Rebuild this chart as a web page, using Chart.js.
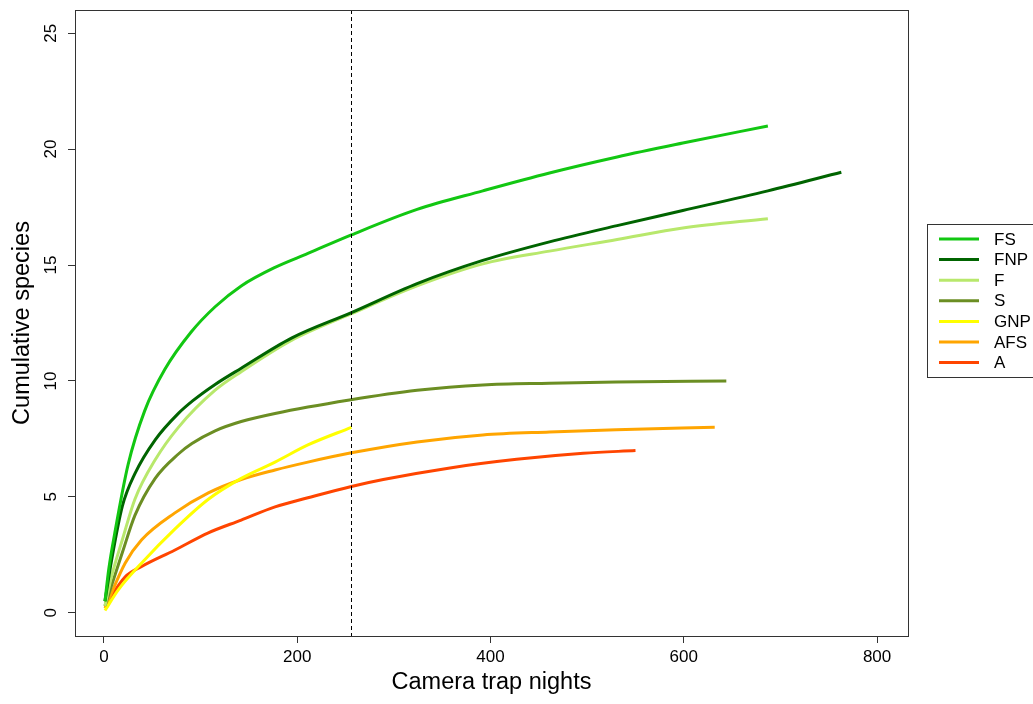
<!DOCTYPE html>
<html>
<head>
<meta charset="utf-8">
<title>Species accumulation by camera trap nights</title>
<script src="https://cdn.jsdelivr.net/npm/chart.js@4.4.1/dist/chart.umd.min.js"></script>
<style>
  html, body { margin: 0; padding: 0; background: #fff; }
  canvas { display: block; }
</style>
</head>
<body>
<canvas id="chart" width="1033" height="704"></canvas>
<script>
// Cumulative species vs. camera trap nights, per site
const seriesNames = ["FS", "FNP", "F", "S", "GNP", "AFS", "A"];

const fsNights  = [1, 5, 11, 25, 42, 63, 90, 115, 142, 177, 211, 256, 324, 392, 461, 531, 599, 687];
const fsSpecies = [0.5, 1.9, 3.4, 6.4, 8.7, 10.5, 12.1, 13.2, 14.1, 14.9, 15.5, 16.3, 17.4, 18.2, 18.97, 19.66, 20.26, 21.0];

const fnpNights  = [1, 8, 19, 32, 53, 77, 92, 115, 142, 194, 256, 324, 392, 461, 531, 599, 687, 763];
const fnpSpecies = [0.5, 2.3, 4.6, 6.0, 7.46, 8.6, 9.15, 9.85, 10.55, 11.85, 12.95, 14.2, 15.2, 16.0, 16.7, 17.35, 18.2, 19.0];

const fNights  = [1, 8, 19, 32, 53, 77, 115, 142, 194, 256, 324, 392, 461, 531, 599, 687];
const fSpecies = [0.3, 1.6, 3.15, 4.9, 6.6, 8.0, 9.6, 10.4, 11.75, 12.9, 14.1, 15.05, 15.6, 16.1, 16.6, 17.0];

const sNights  = [1, 8, 19, 32, 53, 77, 91, 115, 142, 177, 254, 324, 392, 461, 530, 644];
const sSpecies = [0.3, 1.2, 2.6, 4.2, 5.8, 6.85, 7.3, 7.85, 8.25, 8.6, 9.18, 9.6, 9.83, 9.9, 9.95, 10.0];

const gnpNights  = [1, 15, 39, 73, 108, 142, 177, 211, 256];
const gnpSpecies = [0.1, 1.0, 2.15, 3.6, 4.9, 5.8, 6.5, 7.24, 8.0];

const afsNights  = [1, 22, 39, 73, 108, 142, 177, 211, 256, 324, 392, 461, 530, 632];
const afsSpecies = [0.2, 2.15, 3.15, 4.3, 5.17, 5.75, 6.16, 6.5, 6.9, 7.37, 7.67, 7.8, 7.9, 8.0];

const aNights  = [1, 22, 39, 73, 108, 142, 177, 211, 256, 289, 358, 427, 496, 550];
const aSpecies = [0.3, 1.55, 2.0, 2.7, 3.45, 4.0, 4.57, 4.96, 5.45, 5.75, 6.25, 6.62, 6.88, 7.0];

const xTicks = [0, 200, 400, 600, 800];
const yTicks = [0, 5, 10, 15, 20, 25];
const cutoffNights = 256;

const seriesColors = ["#12c712", "#006400", "#b8e86c", "#6b8e23", "#ffff00", "#ffa500", "#ff4500"];
const seriesX = [fsNights, fnpNights, fNights, sNights, gnpNights, afsNights, aNights];
const seriesY = [fsSpecies, fnpSpecies, fSpecies, sSpecies, gnpSpecies, afsSpecies, aSpecies];

const FONT = "'Liberation Sans', Arial, Helvetica, sans-serif";

// draw order: later series underneath, so FS ends up on top
const datasets = seriesNames.map((name, i) => ({
  label: name,
  data: seriesX[i].map((x, k) => ({ x: x, y: seriesY[i][k] })),
  borderColor: seriesColors[i],
  backgroundColor: seriesColors[i],
  borderWidth: 3,
  pointRadius: 0,
  fill: false,
  cubicInterpolationMode: 'monotone',
  order: i
}));

// frame around the plotting region
const boxPlugin = {
  id: 'box',
  afterDraw(chart) {
    const { ctx, chartArea: a } = chart;
    ctx.save();
    ctx.strokeStyle = '#333';
    ctx.lineWidth = 1;
    ctx.strokeRect(Math.round(a.left) + 0.5, Math.round(a.top) + 0.5,
                   Math.round(a.right - a.left), Math.round(a.bottom - a.top));
    ctx.restore();
  }
};

// dashed reference line at the common sampling effort
const cutoffPlugin = {
  id: 'cutoff',
  afterDatasetsDraw(chart) {
    const { ctx, chartArea: a, scales } = chart;
    const x = Math.round(scales.x.getPixelForValue(cutoffNights)) + 0.5;
    ctx.save();
    ctx.strokeStyle = '#000';
    ctx.lineWidth = 1;
    ctx.setLineDash([4, 3]);
    ctx.beginPath();
    ctx.moveTo(x, a.top);
    ctx.lineTo(x, a.bottom);
    ctx.stroke();
    ctx.restore();
  }
};

// boxed legend to the right of the plot
const legendPlugin = {
  id: 'sideLegend',
  afterDraw(chart) {
    const { ctx } = chart;
    const left = 927.5, top = 224.5, width = 130, height = 153;
    const rowH = 20.6, firstY = 239;
    ctx.save();
    ctx.fillStyle = '#fff';
    ctx.fillRect(left, top, width, height);
    ctx.strokeStyle = '#333';
    ctx.lineWidth = 1;
    ctx.strokeRect(left, top, width, height);
    ctx.font = '17px ' + FONT;
    ctx.textBaseline = 'middle';
    ctx.textAlign = 'left';
    seriesNames.forEach((name, i) => {
      const y = firstY + i * rowH;
      ctx.strokeStyle = seriesColors[i];
      ctx.lineWidth = 3;
      ctx.beginPath();
      ctx.moveTo(939, y);
      ctx.lineTo(979, y);
      ctx.stroke();
      ctx.fillStyle = '#000';
      ctx.fillText(name, 994, y + 1);
    });
    ctx.restore();
  }
};

new Chart(document.getElementById('chart'), {
  type: 'line',
  data: { datasets: datasets },
  options: {
    responsive: false,
    animation: false,
    devicePixelRatio: 1,
    layout: { padding: { left: 0, right: 125, top: 10, bottom: 0 } },
    plugins: {
      legend: { display: false },
      tooltip: { enabled: false }
    },
    scales: {
      x: {
        type: 'linear',
        min: -30,
        max: 832,
        afterBuildTicks(scale) { scale.ticks = xTicks.map(v => ({ value: v })); },
        afterFit(scale) { scale.height = 68; scale.paddingLeft = 0; scale.paddingRight = 0; },
        grid: { display: true, drawOnChartArea: false, drawTicks: true, tickLength: 7, color: '#333', tickColor: '#333' },
        border: { display: true, color: '#333' },
        ticks: { color: '#000', font: { family: FONT, size: 17 }, padding: 4, maxRotation: 0, minRotation: 0 },
        title: { display: true, text: 'Camera trap nights', color: '#000', font: { family: FONT, size: 23.5 }, padding: { top: 0, bottom: 7 } }
      },
      y: {
        type: 'linear',
        min: -1,
        max: 26,
        afterBuildTicks(scale) { scale.ticks = yTicks.map(v => ({ value: v })); },
        afterFit(scale) { scale.width = 75; scale.paddingTop = 0; scale.paddingBottom = 0; },
        grid: { display: true, drawOnChartArea: false, drawTicks: true, tickLength: 7, color: '#333', tickColor: '#333' },
        border: { display: true, color: '#333' },
        ticks: { color: '#000', font: { family: FONT, size: 17 }, padding: 7, minRotation: 90, maxRotation: 90, crossAlign: 'center' },
        title: { display: true, text: 'Cumulative species', color: '#000', font: { family: FONT, size: 23.5 }, padding: { top: 8, bottom: 0 } }
      }
    }
  },
  plugins: [cutoffPlugin, boxPlugin, legendPlugin]
});
</script>
</body>
</html>
